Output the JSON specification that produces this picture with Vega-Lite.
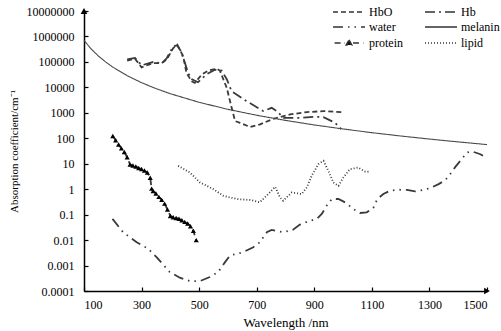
{
  "$schema": "https://vega.github.io/schema/vega-lite/v6.json",
  "width": 403,
  "height": 280,
  "autosize": {"type": "none"},
  "padding": {"left": 84, "top": 11, "right": 14, "bottom": 40},
  "background": "white",
  "config": {
    "view": {"stroke": null},
    "font": "'Liberation Serif', 'Times New Roman', serif",
    "axis": {
      "grid": false,
      "domainColor": "black",
      "domainWidth": 1.5,
      "tickColor": "black",
      "tickWidth": 1.2,
      "tickSize": -4,
      "labelColor": "black",
      "labelFontSize": 12,
      "labelFont": "'Liberation Serif', 'Times New Roman', serif",
      "titleFont": "'Liberation Serif', 'Times New Roman', serif",
      "titleFontSize": 13,
      "titleFontWeight": "normal",
      "titleColor": "black"
    },
    "legend": {
      "orient": "none",
      "legendX": 259,
      "legendY": -5,
      "columns": 2,
      "padding": 0,
      "labelFont": "'Liberation Serif', 'Times New Roman', serif",
      "labelFontSize": 12,
      "labelColor": "black",
      "symbolType": "M-4,0H4",
      "symbolSize": 64,
      "symbolStrokeColor": "#333333",
      "symbolStrokeWidth": 1.5,
      "columnPadding": 19,
      "rowPadding": 3,
      "labelOffset": 14
    }
  },
  "datasets": {
    "curves": [
      {"s": "melanin", "wl": 100, "v": 700000},
      {"s": "melanin", "wl": 125, "v": 322000},
      {"s": "melanin", "wl": 150, "v": 170600},
      {"s": "melanin", "wl": 175, "v": 99800},
      {"s": "melanin", "wl": 200, "v": 62700},
      {"s": "melanin", "wl": 250, "v": 28800},
      {"s": "melanin", "wl": 300, "v": 15300},
      {"s": "melanin", "wl": 350, "v": 8950},
      {"s": "melanin", "wl": 400, "v": 5620},
      {"s": "melanin", "wl": 500, "v": 2590},
      {"s": "melanin", "wl": 600, "v": 1370},
      {"s": "melanin", "wl": 700, "v": 802},
      {"s": "melanin", "wl": 800, "v": 504},
      {"s": "melanin", "wl": 900, "v": 334},
      {"s": "melanin", "wl": 1000, "v": 232},
      {"s": "melanin", "wl": 1100, "v": 166},
      {"s": "melanin", "wl": 1200, "v": 123},
      {"s": "melanin", "wl": 1300, "v": 93},
      {"s": "melanin", "wl": 1400, "v": 72},
      {"s": "melanin", "wl": 1500, "v": 56.5},

      {"s": "HbO", "wl": 250, "v": 112000},
      {"s": "HbO", "wl": 277, "v": 134000},
      {"s": "HbO", "wl": 300, "v": 61400},
      {"s": "HbO", "wl": 340, "v": 90300},
      {"s": "HbO", "wl": 370, "v": 90300},
      {"s": "HbO", "wl": 387, "v": 123000},
      {"s": "HbO", "wl": 410, "v": 349000},
      {"s": "HbO", "wl": 424, "v": 473000},
      {"s": "HbO", "wl": 445, "v": 165000},
      {"s": "HbO", "wl": 456, "v": 36700},
      {"s": "HbO", "wl": 474, "v": 17400},
      {"s": "HbO", "wl": 485, "v": 14900},
      {"s": "HbO", "wl": 509, "v": 31800},
      {"s": "HbO", "wl": 532, "v": 45600},
      {"s": "HbO", "wl": 561, "v": 54600},
      {"s": "HbO", "wl": 572, "v": 45600},
      {"s": "HbO", "wl": 596, "v": 9500},
      {"s": "HbO", "wl": 613, "v": 1570},
      {"s": "HbO", "wl": 625, "v": 474},
      {"s": "HbO", "wl": 642, "v": 406},
      {"s": "HbO", "wl": 677, "v": 276},
      {"s": "HbO", "wl": 712, "v": 352},
      {"s": "HbO", "wl": 758, "v": 583},
      {"s": "HbO", "wl": 816, "v": 867},
      {"s": "HbO", "wl": 874, "v": 1066},
      {"s": "HbO", "wl": 932, "v": 1166},
      {"s": "HbO", "wl": 996, "v": 1066},

      {"s": "Hb", "wl": 250, "v": 126000},
      {"s": "Hb", "wl": 277, "v": 144000},
      {"s": "Hb", "wl": 300, "v": 73400},
      {"s": "Hb", "wl": 340, "v": 98900},
      {"s": "Hb", "wl": 370, "v": 87900},
      {"s": "Hb", "wl": 387, "v": 138000},
      {"s": "Hb", "wl": 410, "v": 406000},
      {"s": "Hb", "wl": 424, "v": 445000},
      {"s": "Hb", "wl": 437, "v": 259000},
      {"s": "Hb", "wl": 451, "v": 87900},
      {"s": "Hb", "wl": 462, "v": 35700},
      {"s": "Hb", "wl": 475, "v": 20800},
      {"s": "Hb", "wl": 496, "v": 15900},
      {"s": "Hb", "wl": 526, "v": 32700},
      {"s": "Hb", "wl": 555, "v": 49900},
      {"s": "Hb", "wl": 578, "v": 45600},
      {"s": "Hb", "wl": 596, "v": 20800},
      {"s": "Hb", "wl": 613, "v": 7060},
      {"s": "Hb", "wl": 665, "v": 2870},
      {"s": "Hb", "wl": 723, "v": 1170},
      {"s": "Hb", "wl": 752, "v": 1570},
      {"s": "Hb", "wl": 770, "v": 1170},
      {"s": "Hb", "wl": 793, "v": 638},
      {"s": "Hb", "wl": 851, "v": 638},
      {"s": "Hb", "wl": 897, "v": 698},
      {"s": "Hb", "wl": 932, "v": 679},
      {"s": "Hb", "wl": 955, "v": 505},
      {"s": "Hb", "wl": 972, "v": 406},
      {"s": "Hb", "wl": 993, "v": 231},

      {"s": "water", "wl": 199, "v": 0.0678},
      {"s": "water", "wl": 236, "v": 0.0203},
      {"s": "water", "wl": 283, "v": 0.00824},
      {"s": "water", "wl": 323, "v": 0.00455},
      {"s": "water", "wl": 352, "v": 0.00214},
      {"s": "water", "wl": 398, "v": 0.000553},
      {"s": "water", "wl": 433, "v": 0.000334},
      {"s": "water", "wl": 468, "v": 0.000246},
      {"s": "water", "wl": 503, "v": 0.000246},
      {"s": "water", "wl": 537, "v": 0.000353},
      {"s": "water", "wl": 566, "v": 0.000553},
      {"s": "water", "wl": 590, "v": 0.00136},
      {"s": "water", "wl": 607, "v": 0.00249},
      {"s": "water", "wl": 653, "v": 0.00335},
      {"s": "water", "wl": 688, "v": 0.00526},
      {"s": "water", "wl": 711, "v": 0.00824},
      {"s": "water", "wl": 735, "v": 0.0203},
      {"s": "water", "wl": 752, "v": 0.0252},
      {"s": "water", "wl": 792, "v": 0.0203},
      {"s": "water", "wl": 825, "v": 0.0252},
      {"s": "water", "wl": 850, "v": 0.0406},
      {"s": "water", "wl": 879, "v": 0.0547},
      {"s": "water", "wl": 909, "v": 0.0678},
      {"s": "water", "wl": 926, "v": 0.106},
      {"s": "water", "wl": 943, "v": 0.225},
      {"s": "water", "wl": 961, "v": 0.411},
      {"s": "water", "wl": 984, "v": 0.411},
      {"s": "water", "wl": 1007, "v": 0.303},
      {"s": "water", "wl": 1036, "v": 0.167},
      {"s": "water", "wl": 1059, "v": 0.116},
      {"s": "water", "wl": 1082, "v": 0.123},
      {"s": "water", "wl": 1105, "v": 0.183},
      {"s": "water", "wl": 1119, "v": 0.411},
      {"s": "water", "wl": 1140, "v": 0.644},
      {"s": "water", "wl": 1163, "v": 0.867},
      {"s": "water", "wl": 1192, "v": 0.949},
      {"s": "water", "wl": 1222, "v": 0.94},
      {"s": "water", "wl": 1250, "v": 0.815},
      {"s": "water", "wl": 1279, "v": 0.94},
      {"s": "water", "wl": 1303, "v": 1.11},
      {"s": "water", "wl": 1332, "v": 1.58},
      {"s": "water", "wl": 1355, "v": 2.27},
      {"s": "water", "wl": 1372, "v": 3.9},
      {"s": "water", "wl": 1390, "v": 7.5},
      {"s": "water", "wl": 1407, "v": 12.9},
      {"s": "water", "wl": 1430, "v": 27.3},
      {"s": "water", "wl": 1448, "v": 30.4},
      {"s": "water", "wl": 1477, "v": 23.6},
      {"s": "water", "wl": 1500, "v": 16.5},

      {"s": "lipid", "wl": 427, "v": 8.24},
      {"s": "lipid", "wl": 468, "v": 4.51},
      {"s": "lipid", "wl": 503, "v": 1.83},
      {"s": "lipid", "wl": 549, "v": 1.01},
      {"s": "lipid", "wl": 584, "v": 0.553},
      {"s": "lipid", "wl": 630, "v": 0.411},
      {"s": "lipid", "wl": 677, "v": 0.376},
      {"s": "lipid", "wl": 711, "v": 0.308},
      {"s": "lipid", "wl": 740, "v": 0.644},
      {"s": "lipid", "wl": 764, "v": 1.24},
      {"s": "lipid", "wl": 781, "v": 0.474},
      {"s": "lipid", "wl": 792, "v": 0.352},
      {"s": "lipid", "wl": 822, "v": 0.745},
      {"s": "lipid", "wl": 856, "v": 0.644},
      {"s": "lipid", "wl": 874, "v": 1.17},
      {"s": "lipid", "wl": 891, "v": 3.35},
      {"s": "lipid", "wl": 914, "v": 9.6},
      {"s": "lipid", "wl": 932, "v": 12.9},
      {"s": "lipid", "wl": 949, "v": 5.25},
      {"s": "lipid", "wl": 966, "v": 1.83},
      {"s": "lipid", "wl": 984, "v": 1.36},
      {"s": "lipid", "wl": 1001, "v": 2.87},
      {"s": "lipid", "wl": 1024, "v": 6.12},
      {"s": "lipid", "wl": 1053, "v": 7.07},
      {"s": "lipid", "wl": 1077, "v": 4.93},
      {"s": "lipid", "wl": 1094, "v": 4.8},

      {"s": "protein", "wl": 200, "v": 123},
      {"s": "protein", "wl": 210, "v": 83},
      {"s": "protein", "wl": 220, "v": 57},
      {"s": "protein", "wl": 230, "v": 40},
      {"s": "protein", "wl": 240, "v": 29},
      {"s": "protein", "wl": 250, "v": 18},
      {"s": "protein", "wl": 260, "v": 9.3},
      {"s": "protein", "wl": 270, "v": 8.5},
      {"s": "protein", "wl": 280, "v": 7.8},
      {"s": "protein", "wl": 290, "v": 6.8},
      {"s": "protein", "wl": 300, "v": 6.2},
      {"s": "protein", "wl": 310, "v": 5.4},
      {"s": "protein", "wl": 320, "v": 4.5},
      {"s": "protein", "wl": 330, "v": 2.8},
      {"s": "protein", "wl": 335, "v": 1.05},
      {"s": "protein", "wl": 340, "v": 0.85},
      {"s": "protein", "wl": 350, "v": 0.68},
      {"s": "protein", "wl": 360, "v": 0.5},
      {"s": "protein", "wl": 370, "v": 0.38},
      {"s": "protein", "wl": 380, "v": 0.27},
      {"s": "protein", "wl": 390, "v": 0.16},
      {"s": "protein", "wl": 400, "v": 0.089},
      {"s": "protein", "wl": 410, "v": 0.079},
      {"s": "protein", "wl": 420, "v": 0.074},
      {"s": "protein", "wl": 430, "v": 0.069},
      {"s": "protein", "wl": 440, "v": 0.06},
      {"s": "protein", "wl": 450, "v": 0.052},
      {"s": "protein", "wl": 460, "v": 0.045},
      {"s": "protein", "wl": 470, "v": 0.035},
      {"s": "protein", "wl": 480, "v": 0.023},
      {"s": "protein", "wl": 490, "v": 0.01}
    ],
    "arrowUp": [{"wl": 100, "v": 10000000}],
    "arrowRight": [{"wl": 1500, "v": 0.0001}]
  },
  "encoding": {
    "x": {
      "field": "wl",
      "type": "quantitative",
      "scale": {"domain": [100, 1500], "nice": false, "zero": false},
      "axis": {
        "values": [100, 300, 500, 700, 900, 1100, 1300, 1500],
        "format": "d",
        "title": "Wavelength /nm",
        "labelPadding": 12,
        "titlePadding": 6
      }
    },
    "y": {
      "field": "v",
      "type": "quantitative",
      "scale": {"type": "log", "domain": [0.0001, 10000000], "nice": false},
      "axis": {
        "values": [0.0001, 0.001, 0.01, 0.1, 1, 10, 100, 1000, 10000, 100000, 1000000, 10000000],
        "format": "~f",
        "title": "Absorption coefficient/cm⁻¹",
        "titleFontSize": 11,
        "labelPadding": 14,
        "titlePadding": 7
      }
    }
  },
  "layer": [
    {
      "data": {"name": "curves"},
      "transform": [{"filter": "datum.s !== 'melanin'"}],
      "mark": {"type": "line", "color": "#3a3a3a", "strokeCap": "butt", "strokeWidth": 1.8},
      "encoding": {
        "strokeDash": {
          "field": "s",
          "type": "nominal",
          "scale": {
            "domain": ["HbO", "water", "protein", "Hb", "melanin", "lipid"],
            "range": [[5, 3], [10, 5, 1.5, 5, 1.5, 5], [6, 4], [10, 4, 2, 4], [1, 0], [1, 2]]
          },
          "legend": {
            "title": null,
            "encode": {
              "symbols": {
                "update": {
                  "shape": {"signal": "datum.value === 'protein' ? 'M-3.6,0H-1M1,0H3.6M0,-0.8L0.7,0.5L-0.7,0.5Z' : 'M-4,0H4'"},
                  "fill": {"signal": "datum.value === 'protein' ? '#111111' : 'transparent'"},
                  "stroke": {"value": "#333333"},
                  "strokeWidth": {"value": 1.5},
                  "opacity": {"value": 1},
                  "strokeDash": {"signal": "datum.value === 'protein' ? [1, 0] : scale('strokeDash', datum.value)"}
                }
              }
            }
          }
        }
      }
    },
    {
      "data": {"name": "curves"},
      "transform": [{"filter": "datum.s === 'melanin'"}],
      "mark": {"type": "line", "color": "#4a4a4a", "strokeCap": "butt", "strokeWidth": 1.1},
      "encoding": {
        "strokeDash": {
          "field": "s",
          "type": "nominal",
          "legend": {"title": null}
        }
      }
    },
    {
      "data": {"name": "curves"},
      "transform": [{"filter": "datum.s === 'protein'"}],
      "mark": {"type": "point", "shape": "triangle-up", "filled": true, "color": "black", "size": 26, "opacity": 1}
    },
    {
      "data": {"name": "arrowUp"},
      "mark": {"type": "point", "shape": "triangle-up", "filled": true, "color": "black", "size": 45, "opacity": 1}
    },
    {
      "data": {"name": "arrowRight"},
      "mark": {"type": "point", "shape": "triangle-right", "filled": true, "color": "black", "size": 45, "opacity": 1}
    }
  ]
}
